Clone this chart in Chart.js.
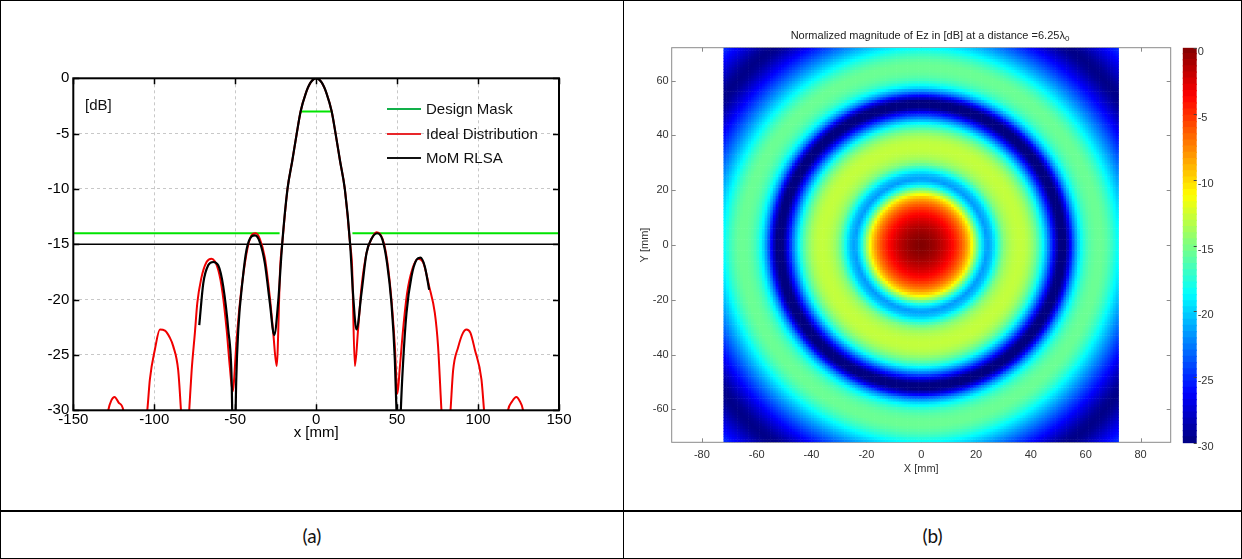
<!DOCTYPE html>
<html>
<head>
<meta charset="utf-8">
<script src="https://cdn.jsdelivr.net/npm/chart.js@4.4.1/dist/chart.umd.min.js"></script>
<style>
  html, body { margin: 0; padding: 0; background: #fff; }
  #page { position: relative; width: 1242px; height: 559px; overflow: hidden;
          font-family: "Liberation Sans", Arial, Helvetica, sans-serif; }
  .ln { position: absolute; background: #000; }
  canvas { position: absolute; }
  .leg-line { position: absolute; left: 387px; width: 34px; height: 2px; }
  .leg-text { position: absolute; left: 426px; font-size: 15px; line-height: 18px; color: #111; white-space: nowrap; }
  #dbTag { position: absolute; left: 85px; top: 96px; font-size: 15px; line-height: 18px; color: #111; }
  #titleB { position: absolute; left: 730px; width: 400px; top: 28px; text-align: center;
            font-size: 11px; line-height: 14px; color: #222; white-space: nowrap; }
  #titleB sub { font-size: 8px; vertical-align: -2px; }
  .cap { position: absolute; top: 514px; height: 44px; line-height: 44px; text-align: center;
         font-family: Lato, "Open Sans", sans-serif; font-size: 19px; color: #111; }
</style>
</head>
<body>
<div id="page">
  <div class="ln" style="left:0;top:0;width:1242px;height:1px"></div>
  <div class="ln" style="left:0;top:0;width:1px;height:559px"></div>
  <div class="ln" style="left:1241px;top:0;width:1px;height:559px"></div>
  <div class="ln" style="left:623px;top:0;width:1px;height:559px"></div>
  <div class="ln" style="left:0;top:510px;width:1242px;height:2px"></div>
  <div class="ln" style="left:0;top:558px;width:1242px;height:1px"></div>

  <canvas id="chartA" width="622" height="509" style="left:1px;top:1px"></canvas>
  <div id="dbTag">[dB]</div>
  <div id="legendA"></div>

  <canvas id="chartB" width="617" height="509" style="left:624px;top:1px"></canvas>
  <canvas id="chartCb" width="66" height="509" style="left:1175px;top:1px"></canvas>
  <div id="titleB">Normalized magnitude of Ez in [dB] at a distance =6.25λ<sub>0</sub></div>

  <div class="cap" style="left:1px;width:622px">(a)</div>
  <div class="cap" style="left:624px;width:617px">(b)</div>
</div>

<script>
// ---- (a) radiation pattern cut ----
const xTicksA = [-150, -100, -50, 0, 50, 100, 150];
const yTicksA = [0, -5, -10, -15, -20, -25, -30];

// design mask: three flat segments
const maskLeftX = [-150, -22.6];
const maskLeftY = [-14, -14];
const maskMidX = [-9.5, 9];
const maskMidY = [-3, -3];
const maskRightX = [22.4, 150];
const maskRightY = [-14, -14];
// -15 dB reference level
const sllX = [-150, 150];
const sllY = [-15, -15];

const idealX = [-132, -128.4, -126.5, -124.5, -122, -119.1, -116, -108, -104.3, -102.7, -99.6, -96.5,
  -93.4, -90.5, -88.3, -85.2, -83.5, -81, -78.4, -76.9, -74.9, -73.4, -71, -67.7, -64.6, -60.5, -57.8,
  -55.3, -53.3, -51.6, -49.1, -47.1, -44, -40.9, -37.3, -34.8, -31.7, -28.6, -26.5, -24.4, -22.2, -21,
  -17.7, -14.8, -12, -9.6, -6.5, -3.5, 0, 3.5, 6.5, 9.6, 12, 14.8, 17.7, 21, 22.2, 23.9, 25.9, 28, 31.1, 34.2, 37.3,
  41, 43.8, 46.5, 48.6, 50.2, 51.7, 53.7, 56.2, 59.5, 63, 66, 69.8, 73.3, 75.3, 77.4, 80, 83, 84.6, 87.7,
  90.7, 92.8, 95.3, 98, 102.1, 103.7, 106, 115, 118.5, 121, 123.7, 125.5, 127.8, 131];
const idealY = [-34, -30, -29.1, -28.8, -29.3, -30, -34, -34, -30, -27.2, -24.5, -22.7,
  -22.8, -23.4, -24.2, -26.4, -30, -36, -30, -26.4, -23, -20.3, -18.1, -16.6, -16.3, -17.3, -19.4,
  -22.7, -26.1, -28.3, -23.6, -20.3, -16.7, -14.5, -14.0, -14.5, -16.2, -19.8, -23, -26, -17, -15,
  -10, -7.5, -5, -3, -1.4, -0.4, 0, -0.4, -1.4, -3, -5, -7.5, -10, -15, -17, -26, -22.7, -18.9, -15.8, -14.5, -13.9,
  -14.5, -16.4, -20, -24.2, -28.5, -26.1, -22.7, -19.4, -17.2, -16.3, -16.6, -18.8, -21.2, -24.2, -30, -36, -30, -26.4, -24.3,
  -23, -22.7, -23, -24.5, -27.2, -30, -34, -34, -30, -29.2, -28.8, -29.1, -30, -34];

const momX = [-72.2, -69.7, -66.7, -63.6, -60.5, -57.4, -54.3, -52.2, -51.8, -50.6, -49.4, -48.1, -45.4,
  -43, -39.9, -37.8, -34.8, -31.7, -28.6, -25.9, -23.5, -21, -17.7, -14.8, -12, -9.6, -6.5, -3.5, 0, 3.5, 6.5, 9.6,
  12, 14.8, 17.7, 21, 22.8, 24.9, 28, 31.1, 34.2, 37.7, 41, 43.8, 46.5, 48.6, 49.6, 50.9, 52.3, 53.7, 55.8,
  58.9, 62, 64.4, 67.1, 69.8];
const momY = [-22.3, -18.5, -16.9, -16.6, -16.9, -18.8, -22.7, -27.2, -30.5, -37, -27.5, -22.7, -18.2,
  -15.5, -14.3, -14.2, -14.8, -16.7, -20.3, -23.2, -20.3, -15, -10, -7.5, -5, -3, -1.4, -0.4, 0, -0.4, -1.4, -3,
  -5, -7.5, -10, -15, -19.5, -22.7, -19.4, -15.8, -14.5, -14.0, -14.6, -16.7, -20.3, -25.4, -30, -37, -30, -25.7, -21.2,
  -17.9, -16.4, -16.2, -17, -19.1];

// ---- (b) near-field map ----
const xTicksB = [-80, -60, -40, -20, 0, 20, 40, 60, 80];
const yTicksB = [-60, -40, -20, 0, 20, 40, 60];
const cbTicks = [0, -5, -10, -15, -20, -25, -30];
// level read along the radius from the map centre
const profileR = [0, 2, 4, 6, 8, 10, 12, 14, 16, 18, 20, 22, 24, 26, 28, 30, 32, 34, 36, 38, 40, 42, 44, 46, 48, 50,
  52, 54, 56, 58, 60, 62, 64, 66, 68, 70, 72, 74, 76, 78, 80, 82, 84, 86, 88, 90, 92, 94, 96, 98, 100, 102];
const profileDb = [0, -0.2, -0.6, -1.2, -2.0, -3.0, -4.2, -5.7, -7.6, -10.2, -14.5, -19.0, -21.8, -20.5, -17.6,
  -15.0, -13.8, -13.2, -13.0, -13.2, -14.0, -15.6, -18.0, -21.5, -25.5, -29.5, -31, -27.5, -22.5, -19.0, -17.0,
  -16.0, -15.6, -15.6, -16.2, -17.3, -18.8, -20.3, -21.8, -23.2, -24.6, -25.9, -27.2, -28.4, -29.4, -29.8, -29.4,
  -28.5, -27.5, -26.5, -25.6, -24.8];
const imageHalf = 72;   // map spans -72..72 mm
const cellStep = 1;
const cMin = -30, cMax = 0;

const FONT = '"Liberation Sans", Arial, Helvetica, sans-serif';
Chart.defaults.font.family = FONT;

function jet(v) {
  const t = Math.min(1, Math.max(0, (v - cMin) / (cMax - cMin)));
  const f = c => Math.round(255 * Math.min(1, Math.max(0, 1.5 - Math.abs(4 * t - c))));
  return `rgb(${f(3)},${f(2)},${f(1)})`;
}

function levelAt(r) {
  for (let i = 1; i < profileR.length; i++) {
    if (r <= profileR[i]) {
      const k = (r - profileR[i - 1]) / (profileR[i] - profileR[i - 1]);
      return profileDb[i - 1] + k * (profileDb[i] - profileDb[i - 1]);
    }
  }
  return profileDb[profileDb.length - 1];
}

const pts = (xs, ys) => xs.map((x, i) => ({ x, y: ys[i] }));

// inner tick marks + axes box, matlab style
function drawFrame(chart, o) {
  const { ctx, chartArea: a, scales: { x, y } } = chart;
  ctx.save();
  ctx.strokeStyle = o.color;
  ctx.lineWidth = o.tickWidth;
  ctx.beginPath();
  x.ticks.forEach(t => {
    const p = Math.round(x.getPixelForValue(t.value)) + 0.5;
    ctx.moveTo(p, a.bottom); ctx.lineTo(p, a.bottom - o.len);
    ctx.moveTo(p, a.top); ctx.lineTo(p, a.top + o.len);
  });
  y.ticks.forEach(t => {
    const p = Math.round(y.getPixelForValue(t.value)) + 0.5;
    ctx.moveTo(a.left, p); ctx.lineTo(a.left + o.len, p);
    ctx.moveTo(a.right, p); ctx.lineTo(a.right - o.len, p);
  });
  ctx.stroke();
  ctx.lineWidth = o.width;
  ctx.strokeRect(a.left, a.top, a.right - a.left, a.bottom - a.top);
  ctx.restore();
}

const framePlugin = {
  id: 'frame',
  beforeDatasetsDraw(chart, args, o) { if (!o.onTop) drawFrame(chart, o); },
  afterDatasetsDraw(chart, args, o) { if (o.onTop) drawFrame(chart, o); }
};

const curve = (label, xs, ys, color, width) => ({
  label,
  data: pts(xs, ys),
  borderColor: color,
  borderWidth: width,
  pointRadius: 0,
  fill: false,
  cubicInterpolationMode: 'monotone',
  clip: 0,
});

const maskColor = '#00e400';
const idealColor = '#f00000';
const momColor = '#000000';

new Chart(document.getElementById('chartA'), {
  type: 'line',
  data: {
    datasets: [
      curve('MoM RLSA', momX, momY, momColor, 2.2),
      curve('Ideal Distribution', idealX, idealY, idealColor, 2),
      curve('Design Mask', maskLeftX, maskLeftY, maskColor, 2),
      curve('Design Mask', maskMidX, maskMidY, maskColor, 2),
      curve('Design Mask', maskRightX, maskRightY, maskColor, 2),
      curve('SLL', sllX, sllY, '#000', 1.5),
    ],
  },
  options: {
    responsive: false,
    animation: false,
    events: [],
    layout: { padding: { left: 0, right: 64, top: 77.3, bottom: 64.7 } },
    plugins: {
      legend: { display: false },
      tooltip: { enabled: false },
      frame: { color: '#000', width: 2, tickWidth: 1.5, len: 6, onTop: true },
    },
    scales: {
      x: {
        type: 'linear', min: -150, max: 150,
        afterBuildTicks: s => { s.ticks = xTicksA.map(value => ({ value })); },
        afterFit: s => { s.height = 35; },
        grid: { color: '#c8c8c8', lineWidth: 1, drawTicks: false },
        border: { display: false, dash: [3, 3] },
        ticks: { color: '#000', font: { size: 15 }, padding: 1, maxRotation: 0 },
        title: { display: true, text: 'x [mm]', color: '#000', font: { size: 15 }, padding: { top: 0, bottom: 3 } },
      },
      y: {
        type: 'linear', min: -30, max: 0,
        afterBuildTicks: s => { s.ticks = yTicksA.map(value => ({ value })); },
        afterFit: s => { s.width = 72.3; },
        grid: { color: '#c8c8c8', lineWidth: 1, drawTicks: false },
        border: { display: false, dash: [3, 3] },
        ticks: { color: '#000', font: { size: 15 }, padding: 4 },
      },
    },
  },
  plugins: [framePlugin],
});

// html legend for (a)
const legendRows = [
  ['Design Mask', '#12b04a', 109],
  ['Ideal Distribution', '#e8262a', 134],
  ['MoM RLSA', '#111', 158],
];
document.getElementById('legendA').innerHTML = legendRows.map(([txt, col, yc]) =>
  `<div class="leg-line" style="top:${yc - 1}px;background:${col}"></div>` +
  `<div class="leg-text" style="top:${yc - 9}px">${txt}</div>`).join('');

// ---- (b) cells ----
const cells = [];
const cellColors = [];
const nCells = Math.round(2 * imageHalf / cellStep);
for (let j = 0; j < nCells; j++) {
  const cy = -imageHalf + cellStep / 2 + j * cellStep;
  for (let i = 0; i < nCells; i++) {
    const cx = -imageHalf + cellStep / 2 + i * cellStep;
    cells.push({ x: cx, y: cy });
    cellColors.push(jet(levelAt(Math.hypot(cx, cy))));
  }
}

let cellR = 0;
function cellRadius(chart) {
  if (!cellR) {
    const { x, y } = chart.scales;
    const sx = Math.abs(x.getPixelForValue(cellStep) - x.getPixelForValue(0));
    const sy = Math.abs(y.getPixelForValue(cellStep) - y.getPixelForValue(0));
    cellR = (Math.max(sx, sy) + 0.6) / Math.SQRT2;
  }
  return cellR;
}

new Chart(document.getElementById('chartB'), {
  type: 'scatter',
  data: {
    datasets: [{
      label: 'Ez',
      data: cells,
      pointStyle: 'rect',
      pointRadius: c => cellRadius(c.chart),
      pointBorderWidth: 0,
      pointBackgroundColor: cellColors,
      showLine: false,
      clip: 0,
    }],
  },
  options: {
    responsive: false,
    animation: false,
    events: [],
    layout: { padding: { left: 0, right: 70.3, top: 46.7, bottom: 33.7 } },
    plugins: {
      legend: { display: false },
      tooltip: { enabled: false },
      frame: { color: '#8a8a8a', width: 1, tickWidth: 1, len: 4, onTop: false },
    },
    scales: {
      x: {
        type: 'linear', min: -91, max: 91,
        afterBuildTicks: s => { s.ticks = xTicksB.map(value => ({ value })); },
        afterFit: s => { s.height = 34; },
        grid: { display: false, drawTicks: false },
        border: { display: false },
        ticks: { color: '#333', font: { size: 11 }, padding: 6, maxRotation: 0 },
        title: { display: true, text: 'X [mm]', color: '#333', font: { size: 11 }, padding: { top: 0, bottom: 1 } },
      },
      y: {
        type: 'linear', min: -72, max: 72,
        afterBuildTicks: s => { s.ticks = yTicksB.map(value => ({ value })); },
        afterFit: s => { s.width = 47.7; },
        grid: { display: false, drawTicks: false },
        border: { display: false },
        ticks: { color: '#333', font: { size: 11 }, padding: 3 },
        title: { display: true, text: 'Y [mm]', color: '#333', font: { size: 11 }, padding: { top: 14.4, bottom: 0 } },
      },
    },
  },
  plugins: [framePlugin],
});

// ---- colorbar ----
const cbSteps = 64;
const cbBars = [];
for (let k = 0; k < cbSteps; k++) {
  const lo = cMin + k * (cMax - cMin) / cbSteps;
  const hi = lo + (cMax - cMin) / cbSteps;
  cbBars.push({
    label: 'cb' + k,
    data: [[lo, Math.min(cMax, hi + 0.05)]],
    backgroundColor: jet((lo + hi) / 2),
    borderWidth: 0,
    grouped: false,
    barPercentage: 1,
    categoryPercentage: 1,
  });
}

const cbTickPlugin = {
  id: 'cbTicks',
  afterDatasetsDraw(chart) {
    const { ctx, chartArea: a, scales: { y } } = chart;
    ctx.save();
    ctx.strokeStyle = '#444';
    ctx.lineWidth = 1;
    ctx.beginPath();
    y.ticks.forEach(t => {
      const p = Math.round(y.getPixelForValue(t.value)) + 0.5;
      ctx.moveTo(a.right, p); ctx.lineTo(a.right - 3, p);
    });
    ctx.stroke();
    ctx.restore();
  }
};

new Chart(document.getElementById('chartCb'), {
  type: 'bar',
  data: { labels: [''], datasets: cbBars },
  options: {
    responsive: false,
    animation: false,
    events: [],
    layout: { padding: { left: 7.7, right: 14.3, top: 46.7, bottom: 66.7 } },
    plugins: { legend: { display: false }, tooltip: { enabled: false } },
    scales: {
      x: { display: false },
      y: {
        type: 'linear', position: 'right', min: cMin, max: cMax,
        afterBuildTicks: s => { s.ticks = cbTicks.map(value => ({ value })); },
        afterFit: s => { s.width = 30; },
        grid: { display: false, drawTicks: false },
        border: { display: false },
        ticks: { color: '#333', font: { size: 11 }, padding: 1, labelOffset: 4 },
      },
    },
  },
  plugins: [cbTickPlugin],
});
</script>
</body>
</html>
